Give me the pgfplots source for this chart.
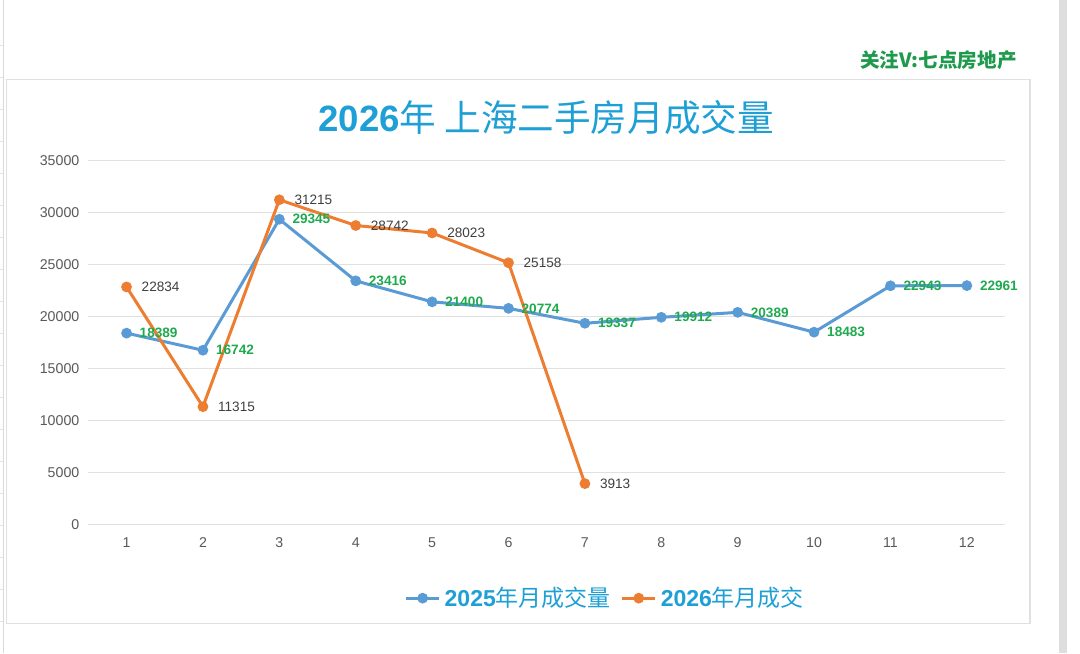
\documentclass[border=0pt]{standalone}
\usepackage{pgfplots}
\pgfplotsset{compat=1.18}
\usepackage{fontspec}
\setmainfont{Liberation Sans}
\newfontfamily\cjk{Noto Sans CJK SC}
\definecolor{bl}{HTML}{5B9BD5}
\definecolor{og}{HTML}{ED7D31}
\definecolor{lblg}{HTML}{1FAA4F}
\definecolor{ttl}{HTML}{1E9FD6}
\definecolor{wm}{HTML}{1E9A4C}
\definecolor{tick}{HTML}{595959}
\definecolor{grd}{HTML}{D9D9D9}
\pgfplotstableread{
x y
1 18389
2 16742
3 29345
4 23416
5 21400
6 20774
7 19337
8 19912
9 20389
10 18483
11 22943
12 22961
}\tblA
\pgfplotstableread{
x y
1 22834
2 11315
3 31215
4 28742
5 28023
6 25158
7 3913
}\tblB
\begin{document}
\begin{tikzpicture}
% canvas 1080x653 px at 0.5pt per px
\fill[white] (0pt,0pt) rectangle (540pt,326.5pt);
% spreadsheet decorations
\draw[grd,line width=0.5pt] (1.5pt,0pt) -- (1.5pt,326.5pt);
\foreach \yy in {304,288,272,256,240,224,208,192,176,160,144,128,112,96,80,64,48,32,16}
  \draw[grd!70,line width=0.4pt] (0pt,\yy pt) -- (1.5pt,\yy pt);
\fill[black!13] (529.5pt,0pt) rectangle (533.5pt,326.5pt);
\draw[black!12,line width=0.6pt] (3pt,287pt) rectangle (515pt,15pt);
% watermark
\node[anchor=east,inner sep=0pt,text=wm,font=\cjk\bfseries\fontsize{9.8}{11}\selectfont] at (508.5pt,296.5pt) {关注V:七点房地产};
% title
\node[text=ttl] at (273pt,268pt) {\fontsize{18.3}{21}\selectfont\bfseries 2026\cjk\mdseries 年 上海二手房月成交量};
\begin{axis}[
  at={(44pt,64.5pt)}, anchor=south west,
  scale only axis, width=458.5pt, height=182pt,
  xmin=0.5, xmax=12.5, ymin=0, ymax=35000,
  xtick={1,...,12}, ytick={0,5000,...,35000},
  axis line style={draw=none},
  major tick length=0pt,
  ymajorgrids, grid style={grd!80,line width=0.5pt},
  tick label style={text=tick,font=\fontsize{7.1}{8}\selectfont},
  /pgf/number format/assume math mode=true,
  /pgf/number format/1000 sep={},
  scaled y ticks=false,
  yticklabel style={xshift=-1pt},
  xticklabel style={yshift=-3pt},
  legend style={at={(0.565,-0.203)},anchor=center,draw=none,fill=none,
    legend columns=2,text=ttl,
    font=\fontsize{11.5}{13}\selectfont,
    /tikz/every even column/.append style={column sep=3pt}},
  legend cell align=left,
  legend image code/.code={
    \draw[#1] (0cm,0cm) -- (0.58cm,0cm);
    \draw[#1,mark repeat=2,mark phase=2] plot coordinates {(0cm,0cm) (0.29cm,0cm) (0.58cm,0cm)};
  },
  clip=false,
]
\addplot[color=bl,line width=1.5pt,mark=*,mark size=1.9pt,
  nodes near coords,
  nodes near coords style={anchor=west,xshift=2.5pt,text=lblg,
    font=\bfseries\fontsize{6.8}{8}\selectfont}]
  table[x=x,y=y] {\tblA};
\addlegendentry{\textbf{2025}{\cjk 年月成交量}}
\addplot[color=og,line width=1.5pt,mark=*,mark size=1.9pt,
  nodes near coords,
  nodes near coords style={anchor=west,xshift=3.5pt,text=black!75,
    font=\fontsize{6.8}{8}\selectfont}]
  table[x=x,y=y] {\tblB};
\addlegendentry{\textbf{2026}{\cjk 年月成交}}
\end{axis}
\end{tikzpicture}
\end{document}
